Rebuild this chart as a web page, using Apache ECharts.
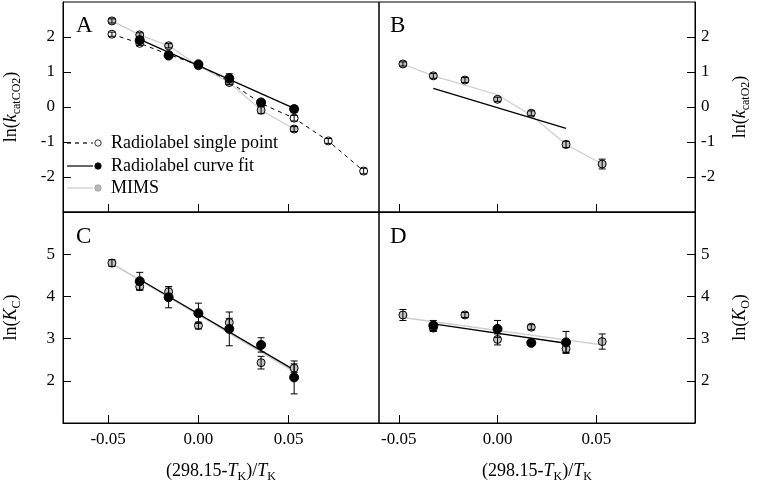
<!DOCTYPE html>
<html><head><meta charset="utf-8">
<script src="https://cdn.jsdelivr.net/npm/echarts@6/dist/echarts.min.js"></script>
<style>html,body{margin:0;padding:0;background:#fff}#c{width:757px;height:485px}</style>
</head><body><div id="c"></div>
<script>
// ---- tick values ----
const xTickVals = [-0.05, 0, 0.05];
const yTickTop = [-2, -1, 0, 1, 2];
const yTickBottom = [2, 3, 4, 5];

// ---- Panel A: ln(kcatCO2)  [x, y, err] ----
const aSingle = [[-0.0479,2.08,0.06],[-0.0325,1.82,0.06],[-0.0165,1.50,0.06],[0,1.20,0.06],[0.0171,0.72,0.06],[0.0347,0.10,0.06],[0.0530,-0.32,0.08],[0.0719,-0.97,0.07],[0.0915,-1.83,0.08]];
const aCurve = [[-0.0325,1.91,0.1],[-0.0165,1.47,0.06],[0,1.22,0.07],[0.0171,0.82,0.13],[0.0347,0.13,0.07],[0.0530,-0.06,0.1]];
const aMims = [[-0.0479,2.46,0.06],[-0.0325,2.06,0.06],[-0.0165,1.75,0.06],[0,1.18,0.06],[0.0171,0.70,0.06],[0.0347,-0.09,0.1],[0.0530,-0.63,0.07]];
const aCurveFit = [[-0.0325,1.93],[0.0530,-0.04]];

// ---- Panel B: ln(kcatO2) ----
const bMims = [[-0.0479,1.23,0.06],[-0.0325,0.89,0.07],[-0.0165,0.77,0.07],[0,0.22,0.06],[0.0171,-0.18,0.07],[0.0347,-1.07,0.09],[0.0530,-1.63,0.14]];
const bMimsLine = [[-0.0479,1.23],[-0.0325,0.89],[0,0.35],[0.0171,-0.24],[0.0347,-1.07],[0.0530,-1.63]];
const bCurveFit = [[-0.0325,0.53],[0.0347,-0.61]];

// ---- Panel C: ln(KC) ----
const cCurve = [[-0.0325,4.36,0.21],[-0.0165,3.98,0.25],[0,3.60,0.24],[0.0171,3.23,0.40],[0.0347,2.85,0.17],[0.0530,2.08,0.39]];
const cMims = [[-0.0479,4.79,0.08],[-0.0325,4.23,0.08],[-0.0165,4.11,0.12],[0,3.31,0.08],[0.0171,3.38,0.1],[0.0347,2.43,0.15],[0.0530,2.30,0.1]];
const cCurveFit = [[-0.0325,4.40],[0.0530,2.26]];
const cMimsFit = [[-0.0479,4.78],[0.0530,2.22]];

// ---- Panel D: ln(KO) ----
const dCurve = [[-0.0325,3.31,0.12],[0,3.23,0.2],[0.0171,2.90,0.06],[0.0347,2.91,0.26]];
const dMims = [[-0.0479,3.56,0.13],[-0.0325,3.25,0.08],[-0.0165,3.56,0.06],[0,2.98,0.13],[0.0171,3.27,0.06],[0.0347,2.76,0.09],[0.0530,2.93,0.18]];
const dCurveFit = [[-0.0325,3.35],[0.0347,2.89]];
const dMimsFit = [[-0.0479,3.50],[0.0530,2.85]];

const FONT = "'Liberation Serif','Times New Roman',serif";
const GRAY = '#c2c2c2';
const LGRAY = '#cccccc';

const grids = [
  {left:63, top:2, width:316, height:210},
  {left:379, top:2, width:316, height:210},
  {left:63, top:212, width:316, height:211},
  {left:379, top:212, width:316, height:211}
].map(g => Object.assign(g, {show:true, borderColor:'#000', borderWidth:1, containLabel:false}));

const richName = {
  i: {fontStyle:'italic', fontSize:18, fontFamily:FONT, color:'#000', lineHeight:24},
  s: {fontSize:12, fontFamily:FONT, color:'#000', verticalAlign:'bottom', lineHeight:12},
  n: {fontSize:18, fontFamily:FONT, color:'#000', lineHeight:24}
};

function xAxis(idx, min, max, bottom) {
  return {
    type:'value', gridIndex:idx, min:min, max:max,
    axisLine:{show:true, onZero:false, lineStyle:{color:'#000', width:1}},
    axisTick:{show:true, inside:true, length:8, customValues:xTickVals, lineStyle:{color:'#000'}},
    axisLabel:{show:bottom, customValues:xTickVals, margin:8, fontSize:17, fontFamily:FONT, color:'#000',
      formatter: v => v.toFixed(2)},
    splitLine:{show:false},
    name: bottom ? '{n|(298.15-}{i|T}{s|K}{n|)/}{i|T}{s|K}' : '',
    nameLocation:'middle', nameGap:36,
    nameTextStyle:{rich:richName}
  };
}
function yAxis(idx, min, max, ticks, pos, name) {
  return {
    type:'value', gridIndex:idx, min:min, max:max, position:pos,
    axisLine:{show:true, onZero:false, lineStyle:{color:'#000', width:1}},
    axisTick:{show:true, inside:true, length:8, customValues:ticks, lineStyle:{color:'#000'}},
    axisLabel:{show:true, customValues:ticks, margin:pos==='left'?8:6, fontSize:17, fontFamily:FONT, color:'#000'},
    splitLine:{show:false},
    name:name, nameLocation:'middle', nameRotate:90, nameGap: pos==='left'?40:33,
    nameTextStyle:{rich:richName}
  };
}

function lineS(idx, data, color, width, type, z) {
  return {type:'line', xAxisIndex:idx, yAxisIndex:idx, data:data, symbol:'none', silent:true,
    lineStyle:{color:color, width:width, type:type||'solid'}, z:z||2, animation:false};
}
function scatS(idx, data, fill, size, z) {
  return {type:'scatter', xAxisIndex:idx, yAxisIndex:idx, data:data, symbol:'circle', symbolSize:size,
    itemStyle:{color:fill, borderColor:'#000', borderWidth:1, opacity:1}, z:z, animation:false, silent:true};
}
function renderErr(params, api) {
  const x = api.value(0), y = api.value(1), e = api.value(2);
  const t = api.coord([x, y + e]), b = api.coord([x, y - e]);
  const w = 3.5, st = {stroke:'#000', lineWidth:1};
  return {type:'group', children:[
    {type:'line', shape:{x1:t[0], y1:t[1], x2:b[0], y2:b[1]}, style:st},
    {type:'line', shape:{x1:t[0]-w, y1:t[1], x2:t[0]+w, y2:t[1]}, style:st},
    {type:'line', shape:{x1:b[0]-w, y1:b[1], x2:b[0]+w, y2:b[1]}, style:st}
  ]};
}
function errS(idx, data, z) {
  return {type:'custom', xAxisIndex:idx, yAxisIndex:idx, coordinateSystem:'cartesian2d',
    data:data, encode:{x:0, y:1}, renderItem:renderErr, z:z, animation:false, silent:true};
}

const series = [
  // A
  lineS(0, aSingle.map(d=>[d[0],d[1]]), '#000', 1, [4,4], 2),
  lineS(0, aMims.map(d=>[d[0],d[1]]), LGRAY, 1.2, 'solid', 2),
  lineS(0, aCurveFit, '#000', 1.3, 'solid', 3),
  scatS(0, aSingle, '#fff', 8, 4), errS(0, aSingle, 5),
  scatS(0, aMims, GRAY, 8, 6), errS(0, aMims, 7),
  scatS(0, aCurve, '#000', 9, 8), errS(0, aCurve, 9),
  // B
  lineS(1, bMimsLine, LGRAY, 1.2, 'solid', 2),
  lineS(1, bCurveFit, '#000', 1.3, 'solid', 3),
  scatS(1, bMims, GRAY, 8, 6), errS(1, bMims, 7),
  // C
  lineS(2, cMimsFit, LGRAY, 1.5, 'solid', 2),
  lineS(2, cCurveFit, '#000', 1.3, 'solid', 3),
  scatS(2, cMims, GRAY, 8, 6), errS(2, cMims, 7),
  scatS(2, cCurve, '#000', 9, 8), errS(2, cCurve, 9),
  // D
  lineS(3, dMimsFit, LGRAY, 1.3, 'solid', 2),
  lineS(3, dCurveFit, '#000', 1.3, 'solid', 3),
  scatS(3, dMims, GRAY, 8, 6), errS(3, dMims, 7),
  scatS(3, dCurve, '#000', 9, 8), errS(3, dCurve, 9)
];

const panelLetters = [['A',76,26],['B',390,26],['C',76,237],['D',390,237]];
const legendItems = [
  {label:'Radiolabel single point', y:143, stroke:'#000', dash:[4,4], fill:'#fff', border:'#000'},
  {label:'Radiolabel curve fit', y:166, stroke:'#000', dash:null, fill:'#000', border:'#000'},
  {label:'MIMS', y:188, stroke:LGRAY, dash:null, fill:'#b8b8b8', border:'#999'}
];
const graphic = [];
panelLetters.forEach(p => graphic.push({type:'text', x:p[1], y:p[2], style:{text:p[0], fontSize:23, fontFamily:FONT, fill:'#000', verticalAlign:'middle', align:'left'}, z:20}));
legendItems.forEach(it => {
  graphic.push({type:'line', shape:{x1:67, y1:it.y, x2:93, y2:it.y}, style:{stroke:it.stroke, lineWidth:1.2, lineDash:it.dash}, z:20});
  graphic.push({type:'circle', shape:{cx:98, cy:it.y, r:3.2}, style:{fill:it.fill, stroke:it.border, lineWidth:0.8}, z:21});
  graphic.push({type:'text', x:111, y:it.y, style:{text:it.label, fontSize:18, fontFamily:FONT, fill:'#000', verticalAlign:'middle'}, z:20});
});

const chart = echarts.init(document.getElementById('c'), null, {renderer:'canvas'});
chart.setOption({
  animation:false,
  backgroundColor:'#fff',
  grid:grids,
  xAxis:[xAxis(0,-0.075,0.1,false), xAxis(1,-0.06,0.1,false), xAxis(2,-0.075,0.1,true), xAxis(3,-0.06,0.1,true)],
  yAxis:[
    yAxis(0,-3,3,yTickTop,'left','{n|ln(}{i|k}{s|catCO2}{n|)}'),
    yAxis(1,-3,3,yTickTop,'right','{n|ln(}{i|k}{s|catO2}{n|)}'),
    yAxis(2,1,6,yTickBottom,'left','{n|ln(}{i|K}{s|C}{n|)}'),
    yAxis(3,1,6,yTickBottom,'right','{n|ln(}{i|K}{s|O}{n|)}')
  ],
  series:series,
  graphic:graphic
});
</script></body></html>
